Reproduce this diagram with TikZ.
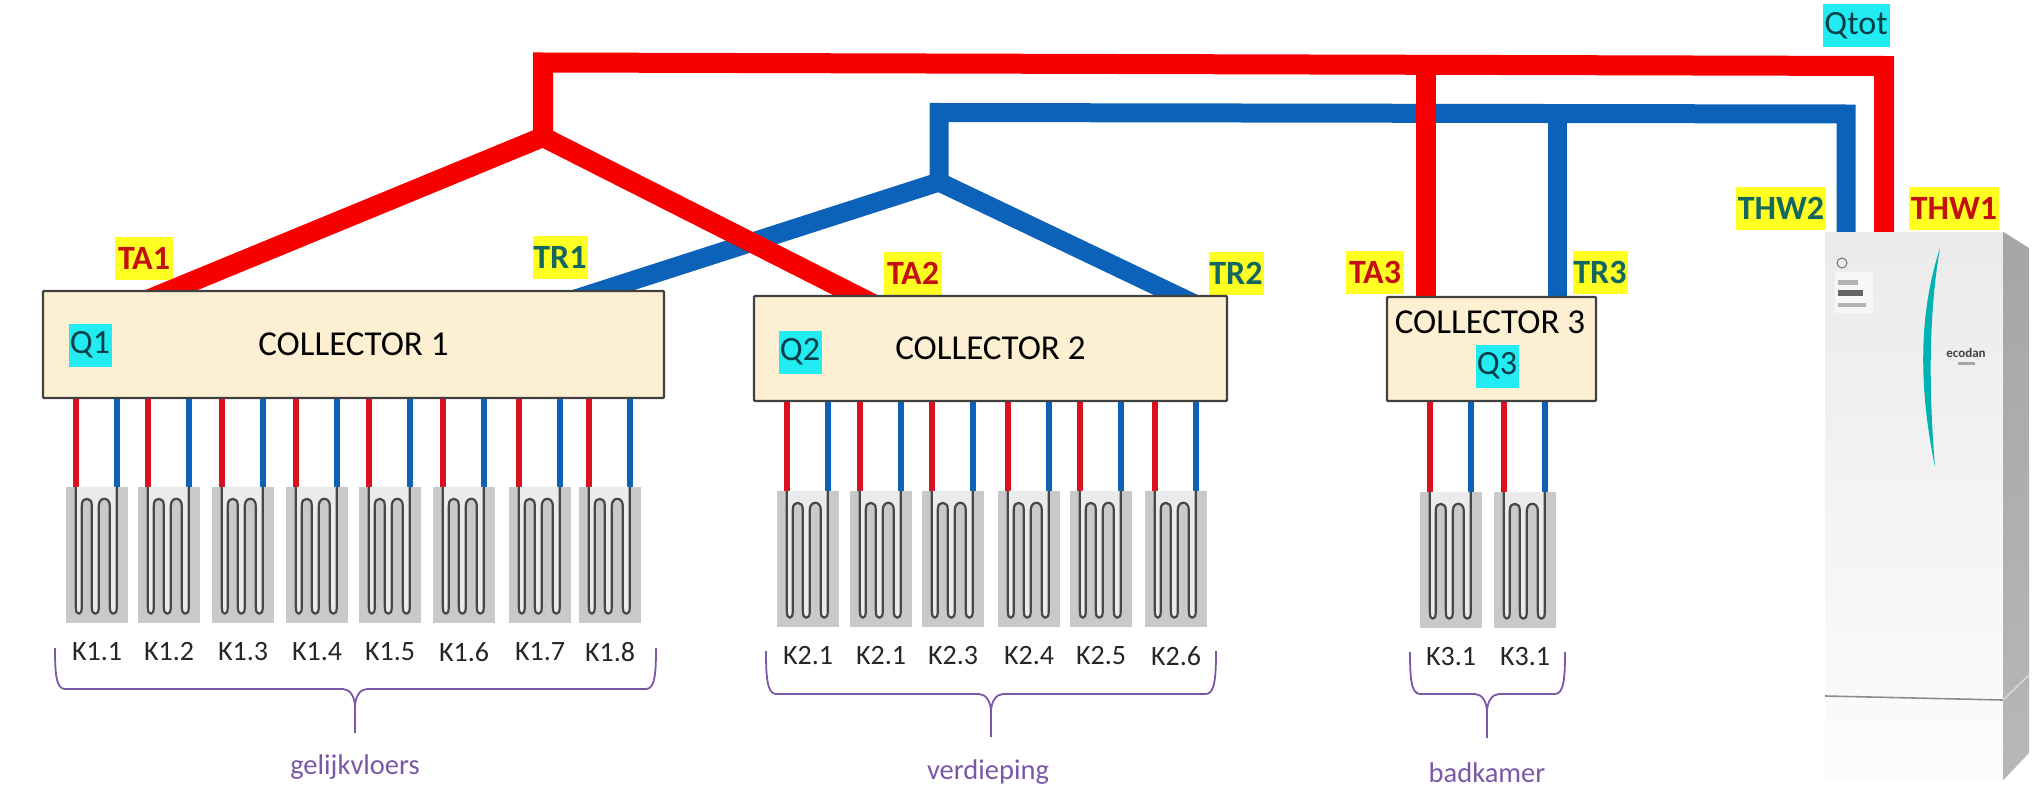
\documentclass[tikz,border=0pt]{standalone}
\usepackage{fontspec}
\setmainfont{Carlito}
\usetikzlibrary{positioning}
\definecolor{hotred}{HTML}{F80000}
\definecolor{coldblue}{HTML}{0B62B8}
\definecolor{thinred}{HTML}{DC0F1E}
\definecolor{tagyellow}{HTML}{FFFF22}
\definecolor{tagcyan}{HTML}{22EBF2}
\definecolor{tagred}{HTML}{C41010}
\definecolor{taggreen}{HTML}{14675F}
\definecolor{tagteal}{HTML}{063F4A}
\definecolor{floorpurple}{HTML}{7A58A6}
\definecolor{collectorfill}{HTML}{FDEFD2}
\tikzset{
hotpipe/.style={draw=hotred, line width=20pt}, % the thick red mains
coldpipe/.style={draw=coldblue, line width=19pt}, % the thick blue mains
hotloop/.style={draw=thinred, line width=5.5pt},
coldloop/.style={draw=coldblue, line width=5.5pt},
collector/.style={draw=black!75, line width=2.2pt, fill=collectorfill, rounded corners=1pt, font=\fontsize{35}{38}\selectfont},
tag/.style={inner sep=0pt, minimum height=43pt, font=\fontsize{34}{36}\selectfont},
hottag/.style={tag, fill=tagyellow, text=tagred, font=\fontsize{34}{36}\selectfont\bfseries, minimum width=58pt},
coldtag/.style={tag, fill=tagyellow, text=taggreen, font=\fontsize{34}{36}\selectfont\bfseries, minimum width=55pt},
flowtag/.style={tag, fill=tagcyan, text=tagteal, minimum width=43pt},
panel/.style={fill=black!21, inner sep=0pt, minimum width=62pt, minimum height=136pt},
klabel/.style={inner sep=0pt, font=\fontsize{28}{30}\selectfont, text=black!85},
floorlabel/.style={inner sep=0pt, text=floorpurple, font=\fontsize{28.5}{30}\selectfont},
bracket/.style={draw=floorpurple, line width=1.8pt},
coil/.pic={
  \draw[black!72, line width=2.2pt, line join=round, fill=black!8]
    (10,0) -- (10,119) .. controls (10,125) and (11,127) .. (13,127) .. controls (15,127) and (16,125) .. (16,119)
    -- (16,19) .. controls (16,14) and (18,12) .. (21,12) .. controls (24,12) and (26,14) .. (26,19)
    -- (26,119) .. controls (26,125) and (27,127) .. (29.5,127) .. controls (32,127) and (33,125) .. (33,119)
    -- (33,19) .. controls (33,14) and (36,12) .. (38.5,12) .. controls (41,12) and (44,14) .. (44,19)
    -- (44,119) .. controls (44,125) and (45,127) .. (47.5,127) .. controls (50,127) and (51,125) .. (51,119)
    -- (51,0);
},
}

\begin{document}
\begin{tikzpicture}[x=1pt, y=-1pt]
  \useasboundingbox (0,0) rectangle (2038,800);

  % heat pump
  \node[inner sep=0pt, minimum width=178pt, minimum height=548pt, top color=black!8, bottom color=black!1] (hp) at (1914,506) {};
  \shade[top color=black!35, bottom color=black!28] (hp.north east) -- (2029,248) -- (2029,753) -- (hp.south east) -- cycle;
  \draw[black!45, line width=1.6pt] (1825,696) -- (2003,700);
  \draw[black!12, line width=1.2pt] (2003,700) -- (2029,675);
  \draw[black!55, line width=1pt] (1842,263) circle (5pt);
  \fill[black!3] (1835,272) rectangle (1873,313);
  \fill[black!60] (1838,290) rectangle (1863,296);
  \fill[black!30] (1838,280) rectangle (1858,285);
  \fill[black!30] (1838,303) rectangle (1866,307);
  \fill[black!35] (1958,362) rectangle (1975,365);
  \fill[teal!60!cyan] (1940,248) .. controls (1923,300) and (1915,370) .. (1935,467) .. controls (1927,370) and (1931,300) .. (1940,248) -- cycle;
  \node[inner sep=0pt, font=\fontsize{13}{14}\selectfont\bfseries, text=black!75] (brand) at (1966,353) {ecodan};

  % labels on the mains
  \node[hottag] (lta1) at (144,258) {TA1};
  \node[coldtag] (ltr1) at (560,257) {TR1};
  \node[hottag] (lta2) at (913,273) {TA2};
  \node[coldtag] (ltr2) at (1236,273) {TR2};
  \node[hottag] (lta3) at (1375,272) {TA3};
  \node[coldtag] (ltr3) at (1600,272) {TR3};
  \node[coldtag, minimum width=90pt] (lthw2) at (1781,208) {THW2};
  \node[hottag, minimum width=90pt] (lthw1) at (1954,208) {THW1};
  \node[flowtag, minimum width=67pt] (qtot) at (1856,26) {Qtot};

  % mains, the ends run on under the collectors
  \coordinate (ja) at (543,137);
  \coordinate (jr) at (939,182);
  \coordinate (ta1) at (140,303);
  \coordinate (tr1) at (563,303);
  \coordinate (ta2) at (879,307);
  \coordinate (tr2) at (1201,307);
  \coordinate (ta3) at (1426,300);
  \coordinate (tr3) at (1557,300);
  \coordinate (ca) at (543,62.5);
  \coordinate (cr) at (939,112.5);
  \coordinate (tee3a) at (1426,65);
  \coordinate (tee3r) at (1557,113.5);
  \coordinate (ea) at (1884,66);
  \coordinate (er) at (1846,114);
  \draw[coldpipe] (tr1) -- (jr) -- (tr2);
  \draw[coldpipe] (jr) -- (cr) -- (er) -- (er |- hp.north);
  \draw[coldpipe] (tee3r) -- (tr3);
  \draw[hotpipe] (ta1) -- (ja) -- (ta2);
  \draw[hotpipe] (ja) -- (ca) -- (ea) -- (ea |- hp.north);
  \draw[hotpipe] (tee3a) -- (ta3);

  % collectors
  \node[collector, minimum width=621pt, minimum height=107pt] (c1) at (353.5,344.5) {COLLECTOR 1};
  \node[collector, minimum width=473pt, minimum height=105pt] (c2) at (990.5,348.5) {COLLECTOR 2};
  \node[collector, minimum width=209pt, minimum height=104pt] (c3) at (1491.5,349) {};
  \node[inner sep=0pt, font=\fontsize{35}{38}\selectfont] (c3text) at (1490,322) {COLLECTOR 3};
  \node[flowtag] (q1) at (90,345) {Q1};
  \node[flowtag] (q2) at (800,352) {Q2};
  \node[flowtag] (q3) at (1497,366) {Q3};

  % circuits
  \foreach \cl/\n/\x/\y/\lab in {c1/k11/97/555/K1.1, c1/k12/169/555/K1.2, c1/k13/243/555/K1.3, c1/k14/317/555/K1.4,
      c1/k15/390/555/K1.5, c1/k16/464/555/K1.6, c1/k17/540/555/K1.7, c1/k18/610/555/K1.8,
      c2/k21/808/559/K2.1, c2/k22/881/559/K2.1, c2/k23/953/559/K2.3, c2/k24/1029/559/K2.4, c2/k25/1101/559/K2.5, c2/k26/1176/559/K2.6,
      c3/k31/1451/560/K3.1, c3/k32/1525/560/K3.1}{
    \node[panel] (\n) at (\x,\y) {};
    \coordinate (\n a) at ([xshift=10pt]\n.north west);
    \coordinate (\n b) at ([xshift=51pt]\n.north west);
    \draw[hotloop] (\n a |- \cl.south) -- (\n a);
    \draw[coldloop] (\n b |- \cl.south) -- (\n b);
    \pic at (\n.north west) {coil};
    \node[klabel, below=19pt of \n] (\n t) {\lab};
  }

  % floors
  \foreach \lx/\mx/\rx/\tp/\br/\tip/\tx/\ty/\fl in {55/355/656/648/689/733/355/767/gelijkvloers, 766/991/1216/651/694/737/988/772/verdieping, 1410/1487/1565/652/694/738/1487/773/badkamer}{
    \draw[bracket] (\lx,\tp) .. controls (\lx,{\tp+25}) and ({\lx+1},\br) .. ({\lx+10},\br) -- ({\mx-12},\br)
      .. controls ({\mx-5},\br) and (\mx,{\br+8}) .. (\mx,{\br+18}) -- (\mx,\tip)
      (\mx,{\br+18}) .. controls (\mx,{\br+8}) and ({\mx+5},\br) .. ({\mx+12},\br) -- ({\rx-10},\br)
      .. controls ({\rx-1},\br) and (\rx,{\tp+25}) .. (\rx,\tp);
    \node[floorlabel] (\fl) at (\tx,\ty) {\fl};
  }
\end{tikzpicture}
\end{document}
